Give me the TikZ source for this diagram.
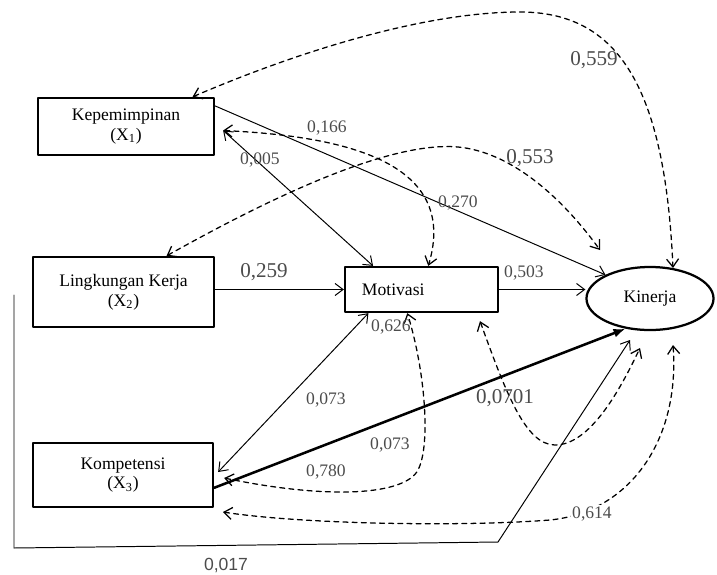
\documentclass[tikz,border=0pt]{standalone}
\usepackage{fontspec}
\setmainfont{Liberation Serif}
\newfontfamily\sansangka{Liberation Sans}
\usetikzlibrary{arrows.meta,shapes.geometric}

\begin{document}
\begin{tikzpicture}[x=0.025cm, y=-0.025cm, >={Straight Barb[length=0.2cm,width=0.3cm]}, font=\fontsize{12.5}{14}\selectfont, line join=round, line cap=round,
	kotak/.style={draw, line width=1.6pt, align=center, inner sep=0pt},
	garis/.style={line width=0.7pt},
	putus/.style={line width=0.9pt, dash pattern=on 3.5pt off 3pt},
	nilai/.style={text=black!70},
	besar/.style={text=black!70, font=\fontsize{15}{17}\selectfont}]
	\useasboundingbox (0,0) rectangle (717,574);
	% Variabel
	\node[kotak, minimum width=4.4cm, minimum height=1.425cm] (X1) at (126,126.5) {Kepemimpinan\\(X\textsubscript{1})};
	\node[kotak, minimum width=4.525cm, minimum height=1.75cm] (X2) at (123.5,292) {Lingkungan Kerja\\(X\textsubscript{2})};
	\node[kotak, minimum width=4.5cm, minimum height=1.6cm] (X3) at (123,475) {Kompetensi\\(X\textsubscript{3})};
	\node[kotak, text width=2.975cm, inner xsep=0.425cm, minimum height=1.125cm, align=left] (Mot) at (421.5,289.5) {Motivasi};
	\node[draw, ellipse, line width=1.6pt, minimum width=3.175cm, minimum height=1.575cm, inner sep=0pt] (Kin) at (650,298.5) {Kinerja};
	\coordinate (u1) at (600,250);
	\coordinate (u2) at (640,348);
	\coordinate (u3) at (673,345);
	\coordinate (u4) at (630,340);
	\coordinate (k0) at (223,512);
	\coordinate (l0) at (14,295);
	% Jalur
	\draw[garis,->] (X1.13) -- (Kin.152);
	\draw[garis,<->] ([shift={(8,4)}]X1.east) -- (Mot.154);
	\draw[putus,<->] ([shift={(8,4)}]X1.east) .. controls (340,136) and (460,160) .. (Mot.74);
	\draw[putus,<->] (X2.40) .. controls (240,215) and (380,140) .. (458,147) .. controls (510,152) and (560,195) .. (u1);
	\draw[putus,<->] (X1.24) .. controls (290,55) and (420,12) .. (520,12) .. controls (620,12) and (665,90) .. (Kin.53);
	\draw[garis,->] (X2.east |- Mot.west) -- (Mot.west);
	\draw[garis,->] (Mot.east) -- (Mot.east -| Kin.west);
	\draw[garis,<->] ([shift={(4,-3)}]X3.east) -- (Mot.204);
	\draw[line width=1.8pt,-{Latex[length=0.3cm]}] (X3.352) -- (Kin.231);
	\draw[putus,<->] ([shift={(10,3)}]X3.east) .. controls (330,500) and (405,495) .. (418,470) .. controls (431,445) and (425,370) .. (Mot.239);
	\draw[putus,<->] ([shift={(0,8)}]Mot.338) .. controls (505,390) and (525,445) .. (555,445) .. controls (590,445) and (620,390) .. (u2);
	\draw[putus,<->] (k0) .. controls (300,524) and (460,527) .. (550,520) .. controls (630,512) and (680,440) .. (u3);
	\draw[garis,->] (l0) -- (14,548) -- (498,542) -- (u4);
	% Koefisien
	\node[nilai] (n1) at (458,203) {0,270};
	\node[nilai] (n2) at (260,160) {0,005};
	\node[nilai] (n3) at (327,128) {0,166};
	\node[besar] (n4) at (530,158) {0,553};
	\node[besar] (n5) at (594,60) {0,559};
	\node[besar] (n6) at (264,272) {0,259};
	\node[nilai] (n7) at (524,273) {0,503};
	\node[nilai] (n8) at (326,400) {0,073};
	\node[nilai] (n9) at (391,327) {0,626};
	\node[nilai] (n10) at (390,445) {0,073};
	\node[besar] (n11) at (505,398) {0,0701};
	\node[nilai] (n12) at (326,472) {0,780};
	\node[nilai, fill=white, inner sep=1pt] (n13) at (592,514) {0,614};
	\node[nilai, font=\sansangka\fontsize{12.5}{14}\selectfont] (n14) at (226,565) {0,017};
\end{tikzpicture}
\end{document}
